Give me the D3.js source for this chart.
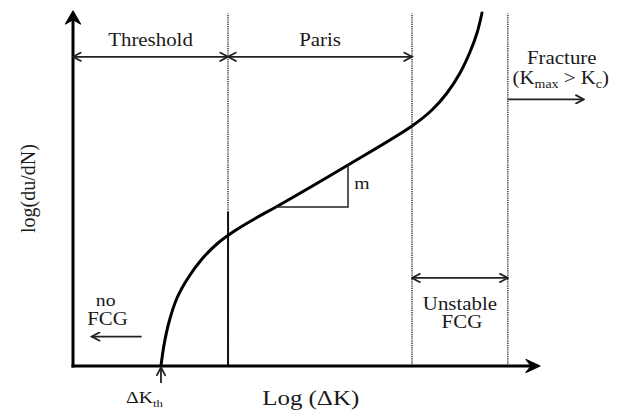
<!DOCTYPE html>
<html>
<head>
<meta charset="utf-8">
<script src="https://cdn.jsdelivr.net/npm/d3@7"></script>
<style>
  html, body { margin: 0; padding: 0; background: #fff; }
  svg { display: block; }
  text { font-family: "Liberation Serif", "Times New Roman", serif; fill: #1a1a1a; }
</style>
</head>
<body>
<svg id="chart" width="619" height="410"></svg>
<script>
// FCG curve: log(da/dN) vs log(ΔK), schematic

// 曲线数据 (arbitrary log units)
const curveX = [1.884, 1.949, 2.056, 2.227, 2.463, 2.762, 3.105, 3.490, 3.919,
                4.347, 5.889, 7.259, 7.687, 8.009, 8.287, 8.501, 8.651, 8.758];
const curveY = [0.000, 0.592, 1.239, 1.915, 2.479, 3.014, 3.465, 3.831, 4.169,
                4.479, 5.662, 6.761, 7.211, 7.690, 8.254, 8.845, 9.380, 9.944];

// 区域边界: threshold | paris | unstable | fracture
const bounds = [0, 3.32, 7.26, 9.31];
const regionNames = ["Threshold", "Paris"];
const dKth = 1.884;

// 斜率三角形 (two curve points)
const slopeX = [4.347, 5.889];
const slopeY = [4.479, 5.662];

const width = 619, height = 410;
const x = d3.scaleLinear().domain([0, 10]).range([73, 540]);
const y = d3.scaleLinear().domain([0, 10]).range([366, 11]);
const stretch = 1.16;

const svg = d3.select("#chart");

// 箭头 marker
const defs = svg.append("defs");
defs.append("marker")
    .attr("id", "head")
    .attr("viewBox", "-1 -5 11 10")
    .attr("refX", 8.5).attr("refY", 0)
    .attr("markerWidth", 11).attr("markerHeight", 10)
    .attr("markerUnits", "userSpaceOnUse")
    .attr("orient", "auto-start-reverse")
    .append("path")
    .attr("d", "M0,-4.5 L8.5,0 L0,4.5")
    .attr("fill", "none")
    .attr("stroke", "#222")
    .attr("stroke-width", 1.8);

function arrow(x1, y1, x2, y2, both) {
    const l = svg.append("line")
        .attr("x1", x(x1)).attr("y1", y(y1))
        .attr("x2", x(x2)).attr("y2", y(y2))
        .attr("stroke", "#222")
        .attr("stroke-width", 1.8)
        .attr("marker-end", "url(#head)");
    if (both) l.attr("marker-start", "url(#head)");
    return l;
}

function label(str, cx, by, size, anchor) {
    return svg.append("text")
        .attr("transform", `translate(${cx},${by}) scale(${stretch},1)`)
        .attr("text-anchor", anchor || "middle")
        .attr("font-size", size)
        .text(str);
}

// 虚线边界
bounds.slice(1).forEach(b => {
    svg.append("line")
        .attr("x1", x(b)).attr("x2", x(b))
        .attr("y1", y(0)).attr("y2", y(9.93))
        .attr("stroke", "#444")
        .attr("stroke-width", 1.6)
        .attr("stroke-dasharray", "1.2,1");
});

// threshold 下方的实线
svg.append("line")
    .attr("x1", x(bounds[1])).attr("x2", x(bounds[1]))
    .attr("y1", y(0)).attr("y2", y(4.34))
    .attr("stroke", "#111")
    .attr("stroke-width", 2);

// 坐标轴 (with heavy arrowheads)
svg.append("line")
    .attr("x1", x(0)).attr("y1", y(0) + 1.5)
    .attr("x2", x(0)).attr("y2", y(10) + 8)
    .attr("stroke", "#000").attr("stroke-width", 3);
svg.append("line")
    .attr("x1", x(0) - 1.5).attr("y1", y(0))
    .attr("x2", x(10) - 8).attr("y2", y(0))
    .attr("stroke", "#000").attr("stroke-width", 3);
svg.append("path")
    .attr("transform", `translate(${x(0)},${y(10)})`)
    .attr("d", "M0,0 L-7.5,13 L0,8.5 L7.5,13 Z")
    .attr("fill", "#000").attr("stroke", "#000").attr("stroke-width", 1.2)
    .attr("stroke-linejoin", "round");
svg.append("path")
    .attr("transform", `translate(${x(10)},${y(0)}) rotate(90)`)
    .attr("d", "M0,0 L-6.5,14 L0,9 L6.5,14 Z")
    .attr("fill", "#000").attr("stroke", "#000").attr("stroke-width", 1.2)
    .attr("stroke-linejoin", "round");

// 曲线
const pts = curveX.map((v, i) => [v, curveY[i]]);
const line = d3.line()
    .x(d => x(d[0]))
    .y(d => y(d[1]))
    .curve(d3.curveCatmullRom.alpha(0.5));
svg.append("path")
    .datum(pts)
    .attr("d", line)
    .attr("fill", "none")
    .attr("stroke", "#000")
    .attr("stroke-width", 3)
    .attr("stroke-linecap", "round");

// 斜率三角形
svg.append("path")
    .attr("d", `M${x(slopeX[0])},${y(slopeY[0])} L${x(slopeX[1])},${y(slopeY[0])} L${x(slopeX[1])},${y(slopeY[1])}`)
    .attr("fill", "none")
    .attr("stroke", "#222")
    .attr("stroke-width", 1.5);
label("m", x(slopeX[1]) + 14, y((slopeY[0] + slopeY[1]) / 2) + 3, 17);

// 区域标注 (top arrows)
const topY = 8.71;
regionNames.forEach((n, i) => {
    arrow(bounds[i], topY, bounds[i + 1], topY, true);
    label(n, x((bounds[i] + bounds[i + 1]) / 2), y(topY) - 11, 18);
});

// Unstable FCG
const unstY = 2.48;
arrow(bounds[2], unstY, bounds[3], unstY, true);
label("Unstable", x((bounds[2] + bounds[3]) / 2), y(unstY) + 32, 18);
label("FCG", x((bounds[2] + bounds[3]) / 2) + 2, y(unstY) + 50, 18);

// Fracture
const fracY = 7.51;
arrow(bounds[3], fracY, 10.94, fracY, false);
label("Fracture", x(bounds[3]) + 54, y(fracY) - 35, 18);
const kt = svg.append("text")
    .attr("transform", `translate(${x(bounds[3]) + 53},${y(fracY) - 15}) scale(${stretch},1)`)
    .attr("text-anchor", "middle")
    .attr("font-size", 18);
kt.append("tspan").text("(K");
kt.append("tspan").attr("font-size", 12).attr("dy", 4).text("max");
kt.append("tspan").attr("dy", -4).text(" > K");
kt.append("tspan").attr("font-size", 12).attr("dy", 4).text("c");
kt.append("tspan").attr("dy", -4).text(")");

// no FCG
const noY = 0.83;
arrow(1.47, noY, 0.40, noY, false);
label("no", x(0.70), y(noY) - 31, 17);
label("FCG", x(0.74), y(noY) - 12, 18);

// ΔKth
arrow(dKth, -0.48, dKth, -0.04, false);
const dk = svg.append("text")
    .attr("transform", `translate(${x(dKth) - 35},${y(0) + 37}) scale(${stretch},1)`)
    .attr("font-size", 17);
dk.append("tspan").text("ΔK");
dk.append("tspan").attr("font-size", 11).attr("dy", 4).text("th");

// 轴标题
label("Log (ΔK)", x(5.09), y(0) + 39, 21.5);
svg.append("text")
    .attr("transform", `translate(35,${y(5.0)}) rotate(-90)`)
    .attr("text-anchor", "middle")
    .attr("font-size", 20)
    .text("log(du/dN)");
</script>
</body>
</html>
